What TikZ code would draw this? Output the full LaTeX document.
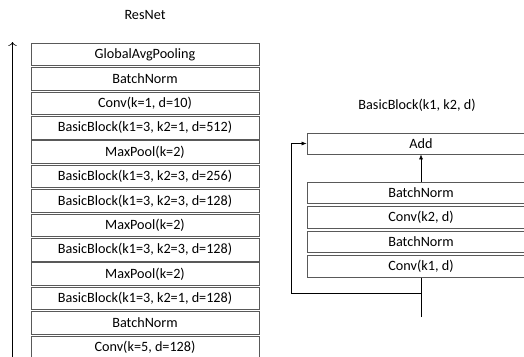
\documentclass[tikz,border=0pt]{standalone}
\usepackage{fontspec}
\setmainfont{Carlito}
\usetikzlibrary{arrows.meta}

\tikzset{
  layer/.style={draw=black!65, line width=0.8pt, minimum width=228pt, minimum height=22.5pt,
    inner sep=0pt, font=\fontsize{14.2}{16}\selectfont},
  title/.style={font=\fontsize{14.2}{16}\selectfont},
  flow/.style={line width=0.6pt, -{Latex[length=5pt,width=4pt]}}
}

\begin{document}
\begin{tikzpicture}[x=1pt, y=-1pt]
      \useasboundingbox (0,0) rectangle (524,356);
      \clip (0,0) rectangle (524,356);

% ResNet stack
      \node[title] (resnet) at (145,15) {ResNet};
      \foreach \t [count=\i] in {GlobalAvgPooling, BatchNorm, {Conv(k=1, d=10)},
        {BasicBlock(k1=3, k2=1, d=512)}, {MaxPool(k=2)}, {BasicBlock(k1=3, k2=3, d=256)},
        {BasicBlock(k1=3, k2=3, d=128)}, {MaxPool(k=2)}, {BasicBlock(k1=3, k2=3, d=128)},
        {MaxPool(k=2)}, {BasicBlock(k1=3, k2=1, d=128)}, BatchNorm, {Conv(k=5, d=128)}}
        \node[layer] (r\i) at (145,{54.5+24.4*(\i-1)}) {\t};

% Data direction
      \coordinate (up0) at (12.5,358);
      \coordinate (up1) at (12.5,42);
      \draw[line width=0.6pt, -{To[length=4pt]}] (up0) -- (up1);

% BasicBlock detail
      \node[title] (bbtitle) at (417,105) {BasicBlock(k1, k2, d)};
      \node[layer, minimum height=21pt] (add) at (421,143.5) {Add};
      \node[layer, minimum height=21.5pt] (bn2) at (421,193) {BatchNorm};
      \node[layer, minimum height=21.5pt] (cv2) at (421,217.5) {Conv(k2, d)};
      \node[layer, minimum height=21.5pt] (bn1) at (421,242) {BatchNorm};
      \node[layer, minimum height=21.5pt] (cv1) at (421,266.5) {Conv(k1, d)};
      \draw[flow] (bn2) -- (add);

% Input and skip
      \coordinate (inp) at (421,317);
      \coordinate (split) at (421,293);
      \draw[line width=0.6pt] (inp) -- (cv1);
      \draw[flow] (split) -| (291,143.5) -- (add.west);

    \end{tikzpicture}
\end{document}
